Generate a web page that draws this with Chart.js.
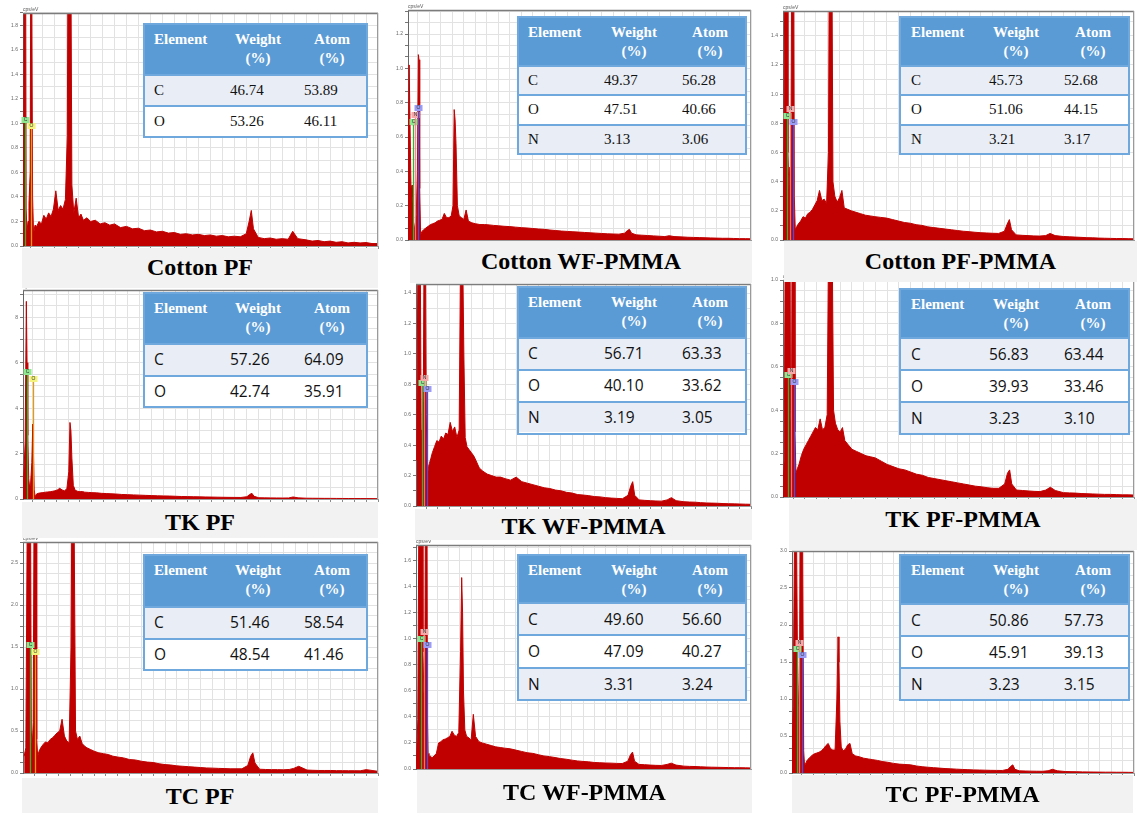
<!DOCTYPE html>
<html>
<head>
<meta charset="utf-8">
<script src="https://cdn.jsdelivr.net/npm/chart.js"></script>
<style>
  body { margin: 0; background: #fff; width: 1137px; height: 813px; position: relative; overflow: hidden; }
  canvas { position: absolute; z-index: 1; }
  .eds { position: absolute; z-index: 2; box-sizing: border-box; border: 2px solid #6fa8dc; background: #fff; overflow: hidden; }
  .eds .head { position: absolute; left: 0; right: 0; top: 0; background: #5b9bd5; color: #fff;
               font: bold 15px "Liberation Serif", "Times New Roman", serif; }
  .eds .row { position: absolute; left: 0; right: 0; box-sizing: border-box; border-top: 2px solid #6fa8dc; color: #111; }
  .eds span { position: absolute; white-space: nowrap; }
  .band { position: absolute; z-index: 3; background: #f2f2f2; }
  .band div { position: absolute; left: 0; right: 0; text-align: center; line-height: 28px;
              font: bold 24px "Liberation Serif", "Times New Roman", serif; color: #000; }
</style>
</head>
<body>
<script>
// energy axis of the spectra (keV), shared by every sample
const energyKeV = [
  0.05, 0.12, 0.2, 0.25, 0.28, 0.31, 0.35, 0.39, 0.43, 0.48,
  0.52, 0.55, 0.58, 0.62, 0.68, 0.75, 0.85, 0.95, 1.05, 1.15,
  1.25, 1.35, 1.45, 1.55, 1.65, 1.75, 1.85, 1.95, 2.03, 2.08,
  2.12, 2.16, 2.22, 2.3, 2.4, 2.5, 2.6, 2.7, 2.85, 3.0,
  3.2, 3.4, 3.6, 3.8, 4.0, 4.25, 4.5, 4.75, 5.0, 5.25,
  5.5, 5.75, 6.0, 6.25, 6.5, 6.75, 7.0, 7.25, 7.5, 7.75,
  8.0, 8.25, 8.5, 8.75, 9.0, 9.25, 9.5, 9.62, 9.71, 9.8,
  10.0, 10.25, 10.5, 10.75, 11.0, 11.25, 11.44, 11.65, 12.0, 12.25,
  12.5, 12.75, 13.0, 13.25, 13.5, 13.75, 14.0, 14.25, 14.5, 14.75,
  15.0
];

// counts (cps/eV) for each sample
const cottonPF = [
  0, 0, 0.35, 3.5, 3.5, 0.3, 0.12, 0.2, 0.35, 0.6,
  3.5, 3.5, 0.4, 0.1, 0.17, 0.16, 0.2, 0.18, 0.25, 0.22,
  0.27, 0.24, 0.3, 0.45, 0.29, 0.33, 0.3, 0.38, 0.9, 3.5,
  3.5, 3.2, 0.5, 0.27, 0.39, 0.23, 0.26, 0.21, 0.23, 0.2,
  0.21, 0.18, 0.19, 0.17, 0.18, 0.15, 0.16, 0.14, 0.145, 0.125,
  0.13, 0.115, 0.12, 0.105, 0.11, 0.095, 0.1, 0.09, 0.095, 0.085,
  0.09, 0.08, 0.085, 0.075, 0.08, 0.075, 0.1, 0.2, 0.29, 0.14,
  0.07, 0.06, 0.065, 0.055, 0.06, 0.055, 0.12, 0.06, 0.05, 0.04,
  0.045, 0.035, 0.04, 0.03, 0.035, 0.025, 0.03, 0.025, 0.028, 0.02,
  0.02
];
const cottonWFPMMA = [
  0, 1.02, 0.3, 0.32, 0.25, 0.1, 0.06, 0.1, 0.15, 0.4,
  1.08, 1.05, 0.3, 0.03, 0.05, 0.06, 0.07, 0.08, 0.09, 0.095,
  0.1, 0.11, 0.115, 0.12, 0.155, 0.13, 0.13, 0.14, 0.2, 0.76,
  0.7, 0.56, 0.2, 0.14, 0.13, 0.12, 0.175, 0.11, 0.1, 0.095,
  0.09, 0.09, 0.088, 0.085, 0.083, 0.08, 0.078, 0.075, 0.072, 0.07,
  0.067, 0.064, 0.062, 0.058, 0.055, 0.052, 0.05, 0.048, 0.046, 0.044,
  0.042, 0.04, 0.038, 0.036, 0.035, 0.034, 0.04, 0.055, 0.062, 0.04,
  0.03, 0.028, 0.026, 0.024, 0.022, 0.02, 0.025, 0.02, 0.018, 0.016,
  0.015, 0.014, 0.013, 0.012, 0.011, 0.01, 0.01, 0.009, 0.008, 0.008,
  0.007
];
const cottonPFPMMA = [
  0, 0.2, 2.5, 2.5, 2.5, 0.6, 0.35, 0.5, 0.25, 2.5,
  2.5, 2.5, 0.3, 0.07, 0.09, 0.11, 0.13, 0.16, 0.15, 0.18,
  0.19, 0.21, 0.24, 0.27, 0.34, 0.27, 0.28, 0.25, 0.6, 2.5,
  2.5, 2.5, 0.4, 0.3, 0.26, 0.29, 0.34, 0.22, 0.21, 0.2,
  0.19, 0.18, 0.17, 0.165, 0.16, 0.155, 0.15, 0.14, 0.13, 0.12,
  0.115, 0.105, 0.1, 0.09, 0.085, 0.08, 0.075, 0.07, 0.065, 0.06,
  0.057, 0.053, 0.05, 0.048, 0.046, 0.045, 0.06, 0.11, 0.14, 0.07,
  0.035, 0.032, 0.03, 0.028, 0.027, 0.03, 0.045, 0.03, 0.024, 0.022,
  0.02, 0.018, 0.016, 0.015, 0.013, 0.012, 0.011, 0.01, 0.01, 0.009,
  0.008
];
const tkPF = [
  0, 0.5, 2.5, 8.7, 6.0, 2.8, 0.9, 0.5, 0.7, 1.6,
  3.3, 2.0, 0.4, 0.1, 0.22, 0.25, 0.27, 0.28, 0.3, 0.31,
  0.32, 0.34, 0.36, 0.4, 0.47, 0.4, 0.36, 0.45, 1.2, 3.37,
  3.0, 1.8, 0.6, 0.38, 0.34, 0.32, 0.33, 0.3, 0.29, 0.28,
  0.27, 0.25, 0.24, 0.23, 0.22, 0.2, 0.19, 0.18, 0.17, 0.16,
  0.15, 0.14, 0.135, 0.13, 0.12, 0.11, 0.105, 0.1, 0.095, 0.09,
  0.085, 0.08, 0.075, 0.072, 0.07, 0.068, 0.1, 0.2, 0.25, 0.12,
  0.055, 0.05, 0.048, 0.045, 0.042, 0.045, 0.09, 0.05, 0.035, 0.033,
  0.03, 0.028, 0.027, 0.025, 0.023, 0.022, 0.02, 0.02, 0.018, 0.017,
  0.015
];
const tkWFPMMA = [
  0.3, 2.0, 2.0, 0.5, 0.35, 0.5, 0.8, 2.0, 2.0, 0.6,
  0.21, 0.22, 0.26, 0.28, 0.31, 0.35, 0.39, 0.43, 0.42, 0.46,
  0.44, 0.48, 0.47, 0.55, 0.49, 0.52, 0.45, 0.5, 2.0, 2.0,
  2.0, 1.0, 0.45, 0.39, 0.37, 0.35, 0.33, 0.3, 0.25, 0.23,
  0.21, 0.2, 0.19, 0.19, 0.18, 0.17, 0.19, 0.16, 0.15, 0.14,
  0.13, 0.12, 0.115, 0.105, 0.1, 0.09, 0.085, 0.075, 0.072, 0.068,
  0.062, 0.06, 0.055, 0.052, 0.05, 0.048, 0.07, 0.13, 0.16, 0.07,
  0.04, 0.037, 0.035, 0.033, 0.032, 0.04, 0.055, 0.035, 0.028, 0.026,
  0.025, 0.022, 0.02, 0.019, 0.018, 0.016, 0.015, 0.014, 0.013, 0.012,
  0.011
];
const tkPFPMMA = [
  0, 0.17, 2.0, 2.0, 2.0, 2.0, 2.0, 0.4, 0.3, 2.0,
  2.0, 2.0, 0.3, 0.11, 0.13, 0.15, 0.19, 0.22, 0.24, 0.26,
  0.28, 0.3, 0.32, 0.31, 0.36, 0.31, 0.32, 0.38, 1.5, 2.0,
  2.0, 1.2, 0.4, 0.34, 0.31, 0.3, 0.32, 0.26, 0.24, 0.22,
  0.21, 0.2, 0.19, 0.185, 0.18, 0.165, 0.15, 0.14, 0.13, 0.125,
  0.115, 0.105, 0.1, 0.09, 0.085, 0.08, 0.075, 0.07, 0.065, 0.06,
  0.055, 0.05, 0.047, 0.043, 0.04, 0.04, 0.06, 0.11, 0.125, 0.06,
  0.032, 0.03, 0.028, 0.026, 0.025, 0.032, 0.045, 0.03, 0.02, 0.019,
  0.018, 0.016, 0.015, 0.014, 0.013, 0.012, 0.012, 0.011, 0.01, 0.01,
  0.009
];
const tcPF = [
  0.2, 0.3, 4.0, 4.0, 4.0, 4.0, 0.5, 0.3, 0.6, 4.0,
  4.0, 4.0, 0.4, 0.2, 0.26, 0.3, 0.34, 0.37, 0.36, 0.4,
  0.42, 0.45, 0.48, 0.5, 0.64, 0.44, 0.38, 0.36, 1.5, 4.0,
  4.0, 3.0, 0.5, 0.4, 0.44, 0.35, 0.32, 0.3, 0.28, 0.26,
  0.24, 0.23, 0.22, 0.2, 0.19, 0.18, 0.16, 0.155, 0.14, 0.13,
  0.125, 0.11, 0.1, 0.095, 0.085, 0.08, 0.075, 0.07, 0.065, 0.06,
  0.058, 0.055, 0.053, 0.05, 0.05, 0.05, 0.09, 0.2, 0.24, 0.12,
  0.045, 0.042, 0.04, 0.04, 0.038, 0.042, 0.055, 0.08, 0.035, 0.032,
  0.03, 0.03, 0.03, 0.028, 0.028, 0.027, 0.027, 0.026, 0.04, 0.03,
  0.02
];
const tcWFPMMA = [
  0, 0.38, 3.0, 3.0, 3.0, 3.0, 0.9, 0.6, 0.5, 3.0,
  3.0, 0.4, 0.12, 0.09, 0.1, 0.085, 0.1, 0.12, 0.2, 0.21,
  0.225, 0.23, 0.24, 0.25, 0.29, 0.26, 0.25, 0.28, 0.9, 1.47,
  1.2, 0.6, 0.3, 0.25, 0.24, 0.22, 0.42, 0.25, 0.21, 0.2,
  0.19, 0.18, 0.17, 0.165, 0.16, 0.155, 0.145, 0.135, 0.125, 0.12,
  0.11, 0.1, 0.095, 0.088, 0.08, 0.075, 0.068, 0.062, 0.058, 0.055,
  0.05, 0.048, 0.046, 0.045, 0.043, 0.042, 0.06, 0.11, 0.13, 0.06,
  0.035, 0.033, 0.03, 0.028, 0.027, 0.035, 0.045, 0.03, 0.022, 0.02,
  0.019, 0.017, 0.015, 0.014, 0.013, 0.012, 0.011, 0.01, 0.01, 0.009,
  0.008
];
const tcPFPMMA = [
  0, 0.9, 4.0, 4.0, 4.0, 1.5, 1.0, 0.5, 4.0, 4.0,
  4.0, 4.0, 0.3, 0.09, 0.14, 0.18, 0.21, 0.24, 0.26, 0.27,
  0.28, 0.3, 0.33, 0.37, 0.4, 0.33, 0.31, 0.31, 1.0, 1.84,
  1.5, 0.7, 0.35, 0.3, 0.32, 0.38, 0.4, 0.26, 0.23, 0.22,
  0.2, 0.19, 0.18, 0.17, 0.155, 0.145, 0.13, 0.12, 0.115, 0.11,
  0.095, 0.085, 0.078, 0.072, 0.066, 0.06, 0.056, 0.052, 0.048, 0.045,
  0.042, 0.04, 0.038, 0.036, 0.035, 0.034, 0.05, 0.09, 0.11, 0.05,
  0.029, 0.027, 0.025, 0.024, 0.023, 0.03, 0.05, 0.03, 0.02, 0.018,
  0.017, 0.015, 0.014, 0.013, 0.012, 0.011, 0.011, 0.01, 0.01, 0.009,
  0.008
];
const spectra = [cottonPF, cottonWFPMMA, cottonPFPMMA, tkPF, tkWFPMMA, tkPFPMMA, tcPF, tcWFPMMA, tcPFPMMA];

const sampleNames = ['Cotton PF', 'Cotton WF-PMMA', 'Cotton PF-PMMA', 'TK PF', 'TK WF-PMMA', 'TK PF-PMMA',
                     'TC PF', 'TC WF-PMMA', 'TC PF-PMMA'];

// element lines: C, N, O (keV) and the height of each line's tag (cps/eV)
const lineElements = ['C', 'N', 'O'];
const lineEnergyKeV = [0.277, 0.392, 0.525];
const lineTagLevel = [
  [1.03, null, 0.98], [0.69, 0.73, 0.77], [0.85, 0.9, 0.81],
  [5.6, null, 5.3], [0.81, 0.84, 0.77], [0.56, 0.58, 0.53],
  [1.52, null, 1.44], [1.0, 1.05, 0.95], [1.68, 1.76, 1.6]
];

// quantification tables
const tableHeader = ['Element', 'Weight', 'Atom'];
const weightPct = [
  [46.74, 53.26], [49.37, 47.51, 3.13], [45.73, 51.06, 3.21],
  [57.26, 42.74], [56.71, 40.10, 3.19], [56.83, 39.93, 3.23],
  [51.46, 48.54], [49.60, 47.09, 3.31], [50.86, 45.91, 3.23]
];
const atomPct = [
  [53.89, 46.11], [56.28, 40.66, 3.06], [52.68, 44.15, 3.17],
  [64.09, 35.91], [63.33, 33.62, 3.05], [63.44, 33.46, 3.10],
  [58.54, 41.46], [56.60, 40.27, 3.24], [57.73, 39.13, 3.15]
];
const tableElements = ['C', 'O', 'N'];

// plot boxes in page pixels plus axis ranges
const plotBox = [
  { left: 23, top: 13, right: 378, bottom: 246, xMin: 0.18, yMax: 1.9, labelStep: 0.2, gridDiv: 2 },
  { left: 408, top: 10, right: 751, bottom: 240, xMin: 0.07, yMax: 1.34, labelStep: 0.2, gridDiv: 3 },
  { left: 783, top: 11, right: 1134, bottom: 240, xMin: 0.1, yMax: 1.57, labelStep: 0.2, gridDiv: 2 },
  { left: 23, top: 290, right: 378, bottom: 499, xMin: 0.11, yMax: 9.2, labelStep: 2, gridDiv: 4 },
  { left: 416, top: 284, right: 751, bottom: 506, xMin: 0.02, yMax: 1.46, labelStep: 0.2, gridDiv: 2 },
  { left: 783, top: 280, right: 1134, bottom: 497, xMin: 0.07, yMax: 1.0, labelStep: 0.2, gridDiv: 4 },
  { left: 23, top: 542, right: 378, bottom: 773, xMin: 0.0, yMax: 2.75, labelStep: 0.5, gridDiv: 4 },
  { left: 416, top: 545, right: 751, bottom: 769, xMin: 0.04, yMax: 1.72, labelStep: 0.2, gridDiv: 2 },
  { left: 792, top: 551, right: 1134, bottom: 773, xMin: 0.07, yMax: 3.0, labelStep: 0.5, gridDiv: 3 }
];

const tableBox = [
  { x: 143, y: 23, w: 225, head: 51, row: 32 },
  { x: 517, y: 16, w: 230, head: 49, row: 30 },
  { x: 899, y: 16, w: 231, head: 49, row: 30 },
  { x: 143, y: 292, w: 225, head: 51, row: 32.5 },
  { x: 517, y: 286, w: 230, head: 51, row: 32.5 },
  { x: 899, y: 288, w: 231, head: 49, row: 32.7 },
  { x: 143, y: 554, w: 225, head: 52, row: 32.5 },
  { x: 517, y: 554, w: 230, head: 48, row: 33 },
  { x: 899, y: 554, w: 231, head: 49, row: 32.7 }
];
// text offsets inside a table, per figure column
const colText = [[11, 87, 161], [11, 87, 165], [12, 90, 165]];
const colCenter = [[113, 187], [115, 191], [115, 192]];

const titleBand = [
  { x: 22, y: 248, w: 356, h: 40, ty: 268 },
  { x: 410, y: 241, w: 342, h: 42, ty: 262 },
  { x: 784, y: 241, w: 353, h: 41, ty: 262 },
  { x: 22, y: 502, w: 356, h: 36, ty: 523 },
  { x: 415, y: 509, w: 337, h: 31, ty: 527 },
  { x: 789, y: 499, w: 348, h: 51, ty: 520 },
  { x: 22, y: 778, w: 356, h: 35, ty: 797 },
  { x: 417, y: 770, w: 335, h: 43, ty: 793 },
  { x: 792, y: 775, w: 341, h: 38, ty: 795 }
];

const lineStyle = {
  C: { line: '#2fb52f', tag: '#8fe88f' },
  N: { line: 'rgba(240,130,130,0.9)', tag: '#f6a8a8' },
  O: { line: '#e59a16', tag: '#f4f47c' },
  O3: { line: '#4050e8', tag: '#9c9cf6' }
};

// element marker lines with their small tags
const elementLines = {
  id: 'elementLines',
  afterDatasetsDraw(chart, args, opts) {
    const ctx = chart.ctx, a = chart.chartArea;
    const x = chart.scales.x, y = chart.scales.y;
    const three = opts.levels[1] !== null;
    ctx.save();
    lineElements.forEach((el, k) => {
      const level = opts.levels[k];
      if (level === null) return;
      const st = (el === 'O' && three) ? lineStyle.O3 : lineStyle[el];
      const px = Math.round(x.getPixelForValue(lineEnergyKeV[k])) + 0.5;
      const py = Math.round(y.getPixelForValue(level));
      ctx.strokeStyle = st.line;
      ctx.lineWidth = 1.3;
      ctx.beginPath();
      ctx.moveTo(px, a.bottom);
      ctx.lineTo(px, py);
      ctx.stroke();
      ctx.fillStyle = st.tag;
      ctx.fillRect(px - 4, py - 3, 8, 6);
      ctx.fillStyle = '#333';
      ctx.font = '5px "Liberation Sans", sans-serif';
      ctx.textAlign = 'center';
      ctx.textBaseline = 'middle';
      ctx.fillText(el, px, py);
    });
    ctx.restore();
  }
};

// grey frame on top/right and the unit above the y axis
const plotFrame = {
  id: 'plotFrame',
  afterDraw(chart) {
    const ctx = chart.ctx, a = chart.chartArea;
    ctx.save();
    ctx.strokeStyle = '#7c7c7c';
    ctx.lineWidth = 1.5;
    ctx.beginPath();
    ctx.moveTo(a.left, a.top + 0.5);
    ctx.lineTo(a.right, a.top + 0.5);
    ctx.stroke();
    ctx.strokeStyle = '#9a9a9a';
    ctx.lineWidth = 1;
    ctx.beginPath();
    ctx.moveTo(a.right - 0.5, a.top);
    ctx.lineTo(a.right - 0.5, a.bottom);
    ctx.stroke();
    ctx.fillStyle = '#555';
    ctx.font = '5px "Liberation Sans", sans-serif';
    ctx.textBaseline = 'bottom';
    ctx.fillText('cps/eV', a.left, a.top - 1);
    ctx.restore();
  }
};

const AXIS_W = 24, PAD_TOP = 10, PAD_RIGHT = 3, AXIS_H = 4;

function drawSpectrum(i) {
  const p = plotBox[i];
  const w = p.right - p.left + AXIS_W + PAD_RIGHT;
  const h = p.bottom - p.top + PAD_TOP + AXIS_H + 1;
  const canvas = document.createElement('canvas');
  canvas.width = w;
  canvas.height = h;
  canvas.style.left = (p.left - AXIS_W) + 'px';
  canvas.style.top = (p.top - PAD_TOP) + 'px';
  canvas.style.width = w + 'px';
  canvas.style.height = h + 'px';
  document.body.appendChild(canvas);

  const gridStep = p.labelStep / p.gridDiv;
  const spectrum = spectra[i];

  new Chart(canvas, {
    type: 'line',
    data: {
      datasets: [{
        data: energyKeV.map((e, k) => ({ x: e, y: spectrum[k] })),
        fill: 'origin',
        backgroundColor: '#c00000',
        borderColor: '#c00000',
        borderWidth: 1,
        pointRadius: 0,
        tension: 0,
        clip: 0
      }]
    },
    options: {
      responsive: false,
      animation: false,
      devicePixelRatio: 1,
      layout: { padding: { top: PAD_TOP, right: PAD_RIGHT, bottom: 1, left: 0 } },
      plugins: {
        legend: { display: false },
        tooltip: { enabled: false },
        elementLines: { levels: lineTagLevel[i] }
      },
      scales: {
        x: {
          type: 'linear',
          min: p.xMin,
          max: 15,
          afterBuildTicks: (s) => {
            const t = [];
            for (let k = 1; k <= 30; k++) if (k * 0.5 >= p.xMin) t.push({ value: k * 0.5 });
            s.ticks = t;
          },
          afterFit: (s) => { s.height = AXIS_H; },
          grid: { color: '#e2e2e2', tickLength: 3, tickColor: '#8a8a8a' },
          border: { color: '#9a9a9a' },
          ticks: { display: false }
        },
        y: {
          min: 0,
          max: p.yMax,
          afterBuildTicks: (s) => {
            const t = [];
            for (let k = 0; k * gridStep <= p.yMax + 1e-9; k++) t.push({ value: k * gridStep });
            s.ticks = t;
          },
          afterFit: (s) => { s.width = AXIS_W; },
          grid: { color: '#e2e2e2', tickLength: 3, tickColor: '#777' },
          border: { color: '#666' },
          ticks: {
            autoSkip: false,
            padding: 2,
            color: '#666',
            font: { size: 5, family: '"Liberation Sans", sans-serif' },
            callback: (v) => {
              const r = v / p.labelStep;
              if (Math.abs(r - Math.round(r)) > 1e-6) return '';
              return p.labelStep >= 1 ? String(Math.round(v)) : v.toFixed(1);
            }
          }
        }
      }
    },
    plugins: [elementLines, plotFrame]
  });
}

function drawTable(i) {
  const t = tableBox[i];
  const col = i % 3;
  const n = weightPct[i].length;
  const box = document.createElement('div');
  box.className = 'eds';
  box.style.left = t.x + 'px';
  box.style.top = t.y + 'px';
  box.style.width = t.w + 'px';
  box.style.height = (t.head + n * t.row) + 'px';

  const head = document.createElement('div');
  head.className = 'head';
  head.style.height = (t.head - 2) + 'px';
  const hTop = 5;
  head.innerHTML =
    '<span style="left:' + (colText[col][0] - 2) + 'px;top:' + hTop + 'px;line-height:19px">' + tableHeader[0] + '</span>' +
    '<span style="left:' + (colCenter[col][0] - 42) + 'px;width:84px;text-align:center;top:' + hTop + 'px;line-height:19px">' + tableHeader[1] + '<br>(%)</span>' +
    '<span style="left:' + (colCenter[col][1] - 42) + 'px;width:84px;text-align:center;top:' + hTop + 'px;line-height:19px">' + tableHeader[2] + '<br>(%)</span>';
  box.appendChild(head);

  // first row of samples uses a serif face, the rest a sans face
  const rowFont = i < 3 ? '15px "Liberation Serif", "Times New Roman", serif'
                        : '15.5px "Open Sans", "Liberation Sans", sans-serif';
  // rows share the inner height below the header, leaving the bottom border visible
  const rowH = (n * t.row - 2) / n;
  for (let r = 0; r < n; r++) {
    const row = document.createElement('div');
    row.className = 'row';
    row.style.top = (t.head - 2 + r * rowH) + 'px';
    row.style.height = rowH + 'px';
    row.style.background = r % 2 === 0 ? '#e9edf5' : '#ffffff';
    row.style.font = rowFont;
    const lh = (rowH - 2) + 'px';
    const cells = [tableElements[r], weightPct[i][r].toFixed(2), atomPct[i][r].toFixed(2)];
    row.innerHTML = cells.map((c, k) =>
      '<span style="left:' + (colText[col][k] - 2) + 'px;top:0;line-height:' + lh + '">' + c + '</span>').join('');
    box.appendChild(row);
  }
  document.body.appendChild(box);
}

function drawTitle(i) {
  const b = titleBand[i];
  const band = document.createElement('div');
  band.className = 'band';
  band.style.left = b.x + 'px';
  band.style.top = b.y + 'px';
  band.style.width = b.w + 'px';
  band.style.height = b.h + 'px';
  const label = document.createElement('div');
  label.style.top = (b.ty - b.y - 14) + 'px';
  label.textContent = sampleNames[i];
  band.appendChild(label);
  document.body.appendChild(band);
}

for (let i = 0; i < 9; i++) {
  drawSpectrum(i);
  drawTable(i);
  drawTitle(i);
}
</script>
</body>
</html>
